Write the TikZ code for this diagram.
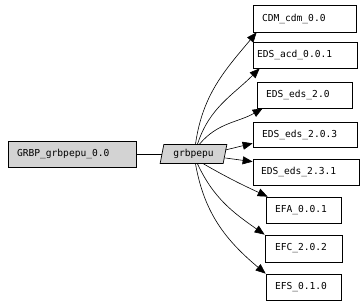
\documentclass[tikz,border=0pt]{standalone}
\usepackage{fontspec}
\setmonofont{DejaVu Sans Mono}
\usetikzlibrary{shapes.geometric, arrows.meta, positioning}
\definecolor{NodeGrey}{HTML}{D3D3D3}
\definecolor{EdgeBlack}{HTML}{000000}

\tikzset{
  box/.style={draw=EdgeBlack, line width=0.7pt, minimum height=26pt, align=left,
    inner xsep=9pt, inner ysep=0pt, text width=#1,
    font=\ttfamily\fontsize{9.6}{11}\selectfont},
  pkg/.style={trapezium, trapezium left angle=75, trapezium right angle=105,
    trapezium stretches=true, draw=EdgeBlack, fill=NodeGrey, line width=0.7pt,
    minimum width=67pt, minimum height=19pt, inner sep=0pt,
    font=\ttfamily\fontsize{9.6}{11}\selectfont},
  dep/.style={-{Triangle[length=10pt,width=8pt]}, line width=0.6pt, draw=EdgeBlack}
}

\begin{document}
\begin{tikzpicture}[x=1pt, y=1pt]
  \useasboundingbox[fill=white] (0,0) rectangle (362,305);

  % source and package
  \node[box=110pt, fill=NodeGrey] (grbp) at (72,151) {GRBP\_grbpepu\_0.0};
  \node[pkg] (grbpepu) at (193.5,151) {grbpepu};

  % dependencies
  \node[box=85pt, minimum height=27pt, fill=white] (cdm) at (304.5,286.5) {CDM\_cdm\_0.0};
  \node[box=96pt, inner xsep=4pt, fill=white] (acd) at (305,250) {EDS\_acd\_0.0.1};
  \node[box=77pt, fill=white] (eds20) at (304.5,210) {EDS\_eds\_2.0};
  \node[box=86pt, minimum height=25pt, fill=white] (eds203) at (305,170.5) {EDS\_eds\_2.0.3};
  \node[box=90pt, inner xsep=8pt, fill=white] (eds231) at (306,133) {EDS\_eds\_2.3.1};
  \node[box=57pt, fill=white] (efa) at (303.5,95) {EFA\_0.0.1};
  \node[box=57pt, inner xsep=10pt, minimum height=27pt, fill=white] (efc) at (303.5,56.5) {EFC\_2.0.2};
  \node[box=57pt, fill=white] (efs) at (303.5,18) {EFS\_0.1.0};

  \draw[line width=0.6pt] (grbp.east) -- (grbpepu.west);

  \draw[dep] ([xshift=2pt]grbpepu.north) to[out=82, in=230] ([xshift=4pt]cdm.south west);
  \draw[dep] ([xshift=4pt]grbpepu.north) to[out=72, in=225] ([xshift=7pt]acd.south west);
  \draw[dep] ([xshift=6pt]grbpepu.north) to[out=50, in=210] ([xshift=6pt]eds20.south west);
  \draw[dep] ([yshift=4pt]grbpepu.east) -- ([yshift=4pt]eds203.south west);
  \draw[dep] ([yshift=-4pt]grbpepu.east) -- ([yshift=-3pt]eds231.north west);
  \draw[dep] ([xshift=10pt]grbpepu.south) to[out=-30, in=155] ([xshift=2pt]efa.north west);
  \draw[dep] ([xshift=4pt]grbpepu.south) to[out=-65, in=145] (efc.north west);
  \draw[dep] ([xshift=2pt]grbpepu.south) to[out=-80, in=140] (efs.north west);
\end{tikzpicture}
\end{document}
